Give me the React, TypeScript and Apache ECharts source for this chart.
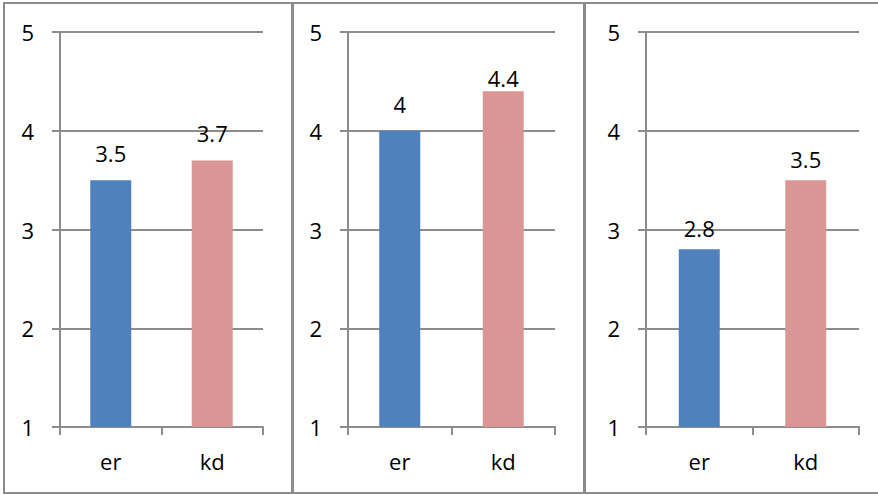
import React, { useEffect, useRef } from "react";
import * as echarts from "echarts";

const categories = ["er", "kd"];
const panel1Values = [3.5, 3.7];
const panel2Values = [4, 4.4];
const panel3Values = [2.8, 3.5];
const panelValues = [panel1Values, panel2Values, panel3Values];
const barColors = ["#4F81BD", "#D99694"];
const yMin = 1;
const yMax = 5;
const yInterval = 1;

const FONT = "Open Sans";
const AXIS_GRAY = "#8C8C8C";
const labelDistances = [16, 16, 10];

export default function App() {
  const ref = useRef<HTMLDivElement>(null);
  useEffect(() => {
    if (!ref.current) return;
    const chart = echarts.init(ref.current, undefined, { renderer: "svg" });
    const grids = [
      { left: 60, top: 32, width: 203, height: 395 },
      { left: 348, top: 32, width: 207, height: 395 },
      { left: 646, top: 32, width: 213, height: 395 },
    ];
    const xAxes = grids.map((_, i) => ({
      type: "category" as const,
      gridIndex: i,
      data: categories,
      boundaryGap: true,
      axisLine: { show: true, lineStyle: { color: AXIS_GRAY, width: 2 } },
      axisTick: { show: true, length: 8, lineStyle: { color: AXIS_GRAY, width: 2 } },
      axisLabel: { color: "#000", fontFamily: FONT, fontSize: 22, margin: 23 },
      splitLine: { show: false },
    }));
    const yAxes = grids.map((_, i) => ({
      type: "value" as const,
      gridIndex: i,
      min: yMin,
      max: yMax,
      interval: yInterval,
      axisLine: { show: true, lineStyle: { color: AXIS_GRAY, width: 2 } },
      axisTick: { show: true, length: 8, lineStyle: { color: AXIS_GRAY, width: 2 } },
      axisLabel: { color: "#000", fontFamily: FONT, fontSize: 22, margin: 26 },
      splitLine: { show: true, lineStyle: { color: AXIS_GRAY, width: 2 } },
    }));
    const series = panelValues.map((vals, i) => ({
      type: "bar" as const,
      xAxisIndex: i,
      yAxisIndex: i,
      barWidth: 41,
      data: vals.map((v, j) => {
        const item: any = { value: v, itemStyle: { color: barColors[j] } };
        // label pushed down near the plot top, as in the reference
        if (v > 4.2) item.label = { distance: 2 };
        return item;
      }),
      label: {
        show: true,
        position: "top" as const,
        distance: labelDistances[i],
        color: "#000",
        fontFamily: FONT,
        fontSize: 22,
      },
    }));
    chart.setOption({
      animation: false,
      backgroundColor: "#fff",
      grid: grids,
      xAxis: xAxes,
      yAxis: yAxes,
      series,
      graphic: [
        { type: "rect", shape: { x: 4, y: 3, width: 288, height: 490 }, style: { fill: "none", stroke: AXIS_GRAY, lineWidth: 2 }, z: 10 },
        { type: "rect", shape: { x: 293, y: 3, width: 291, height: 490 }, style: { fill: "none", stroke: AXIS_GRAY, lineWidth: 2 }, z: 10 },
        { type: "rect", shape: { x: 585, y: 3, width: 300, height: 490 }, style: { fill: "none", stroke: AXIS_GRAY, lineWidth: 2 }, z: 10 },
      ],
    });
    return () => chart.dispose();
  }, []);
  return (
    <div
      ref={ref}
      style={{ position: "fixed", left: 0, top: 0, width: 878, height: 495 }}
    />
  );
}
